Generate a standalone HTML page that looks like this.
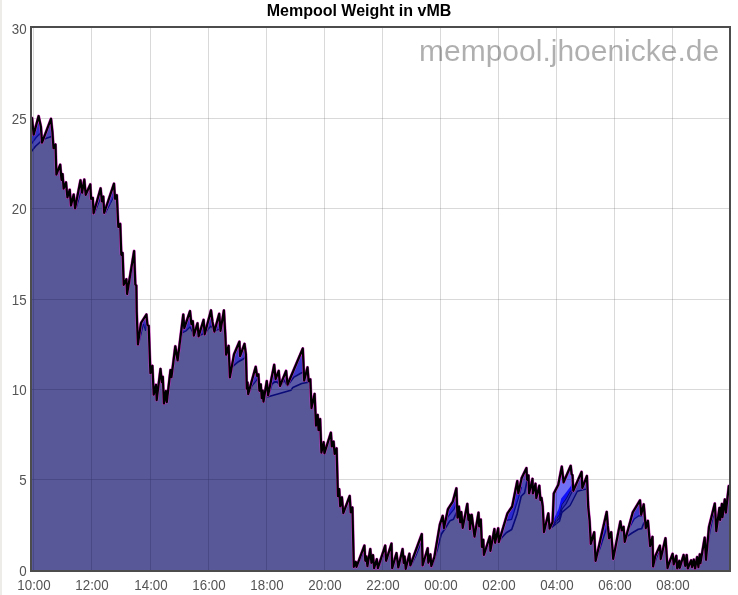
<!DOCTYPE html>
<html><head><meta charset="utf-8"><title>Mempool Weight in vMB</title>
<style>
html,body{margin:0;padding:0;background:#fff;}
body{width:738px;height:595px;position:relative;overflow:hidden;font-family:"Liberation Sans",sans-serif;}
#strip{position:absolute;left:0;top:0;width:2px;height:595px;background:#edece9;}
#title{position:absolute;left:0;width:718px;top:2px;text-align:center;font-weight:bold;font-size:16px;line-height:18px;color:#000;}
#wm{position:absolute;left:419px;top:34px;font-size:30px;line-height:34px;color:rgba(0,0,0,0.315);white-space:nowrap;z-index:3;}
.xl{position:absolute;top:577.5px;transform:scaleY(1.08);transform-origin:center;width:60px;text-align:center;font-size:13.33px;line-height:16px;color:#545454;}
.yl{position:absolute;left:-0.4px;transform:scaleY(1.08);transform-origin:center;width:27px;text-align:right;font-size:13.33px;line-height:16px;color:#545454;}
svg{position:absolute;left:0;top:0;}
</style></head><body>
<div id="strip"></div>
<div id="title">Mempool Weight in vMB</div>
<div id="wm">mempool.jhoenicke.de</div>
<svg width="738" height="595" viewBox="0 0 738 595">
<defs><clipPath id="cp"><rect x="32" y="28" width="697" height="542"/></clipPath>
<clipPath id="fp"><polygon points="31.0,571.0 31.0,118.0 32.0,118.0 33.7,134.6 38.6,116.1 40.9,126.7 42.0,142.7 51.0,118.8 52.4,132.0 53.5,148.1 55.5,144.5 56.4,174.6 60.2,164.7 61.5,179.8 62.6,174.2 63.6,188.6 66.0,182.3 67.4,197.5 69.7,189.8 71.0,205.6 73.7,194.5 75.1,208.3 80.5,180.3 82.1,192.7 84.3,179.6 85.7,194.8 90.3,184.4 91.1,198.9 92.8,197.9 93.6,213.3 100.6,188.4 101.9,201.5 103.3,196.6 104.2,213.0 114.0,183.7 115.0,198.8 116.8,195.2 118.3,227.0 120.2,223.9 121.3,254.8 122.6,252.9 123.7,284.9 126.4,279.2 127.1,294.0 134.1,251.1 135.3,284.5 136.3,285.5 136.7,312.0 137.9,344.5 141.0,323.0 146.4,314.5 147.4,324.8 148.7,325.9 150.4,373.1 152.4,365.9 153.7,394.7 156.0,384.9 156.7,400.1 160.5,368.9 161.8,382.1 162.8,376.8 163.9,403.5 165.9,391.0 166.8,402.1 170.5,370.0 171.5,377.1 175.3,346.3 177.6,360.5 183.3,314.5 184.3,328.2 190.0,311.1 191.4,324.2 192.8,321.2 193.8,335.7 197.5,323.3 198.6,336.4 203.6,319.9 204.7,334.3 211.0,310.4 212.5,322.0 214.4,331.6 219.2,313.8 220.5,330.9 223.9,310.4 225.3,335.0 226.1,354.8 228.6,345.9 229.9,377.4 234.0,354.4 239.4,341.7 240.1,356.2 244.5,343.8 245.9,354.4 246.8,388.7 247.5,382.4 248.2,394.1 255.7,366.8 257.0,375.8 258.4,374.3 259.4,390.8 260.8,384.4 261.7,398.2 262.7,390.5 263.5,401.6 266.8,381.0 268.1,395.5 274.2,364.8 275.6,379.2 278.7,370.9 280.0,386.0 286.1,370.9 287.5,384.7 302.8,348.5 304.2,380.6 307.5,367.4 308.6,381.1 310.3,379.4 311.5,408.1 314.6,393.9 316.0,425.6 317.7,414.9 318.5,430.1 320.1,419.1 321.4,452.6 323.7,442.2 324.4,453.3 330.9,432.7 331.8,446.5 333.6,441.6 334.6,454.0 336.6,448.3 337.9,496.2 339.2,489.2 340.2,506.4 341.9,497.3 343.3,513.1 349.7,496.0 350.7,512.5 352.4,507.5 353.8,566.9 355.8,561.9 356.5,566.9 364.4,545.6 365.3,560.8 366.4,556.5 367.4,566.2 370.3,549.0 371.4,562.8 373.0,555.1 374.1,568.2 376.8,559.2 377.9,568.2 385.2,545.6 386.1,560.8 391.5,543.6 392.2,568.2 396.5,553.1 398.3,567.5 402.6,549.0 403.7,562.8 404.6,556.5 405.7,568.9 409.4,553.7 410.3,565.5 421.8,534.1 422.6,565.5 427.7,548.3 428.3,562.8 430.4,554.4 431.3,566.2 434.4,556.9 439.9,524.4 442.7,515.9 444.0,528.1 448.0,509.1 452.8,501.7 456.4,488.4 457.5,517.7 458.9,506.6 460.2,522.5 461.3,512.1 462.7,527.9 467.3,503.9 468.4,519.8 469.4,514.8 469.9,529.2 471.7,514.8 474.5,536.7 478.5,512.7 479.2,526.5 480.8,519.5 481.9,546.9 483.3,539.8 483.9,555.0 489.8,536.5 490.4,550.9 494.4,529.0 495.1,542.8 498.2,528.3 498.8,542.1 507.5,513.3 512.2,506.5 517.3,481.0 518.3,493.4 521.7,478.0 526.4,468.1 527.1,479.8 528.5,475.5 529.1,493.4 532.5,478.9 532.9,493.4 535.5,483.7 536.3,498.1 539.3,485.7 540.4,500.2 541.5,497.9 542.7,506.5 544.0,532.1 548.3,513.4 549.6,528.6 552.6,522.0 553.8,493.5 558.3,484.8 561.8,466.6 563.6,482.3 570.7,465.8 571.6,474.1 572.5,475.2 573.3,490.8 581.6,471.9 582.3,488.0 586.9,476.0 587.6,492.0 588.2,507.0 589.6,521.0 590.8,543.9 594.2,532.2 595.6,560.9 606.7,511.9 607.8,525.9 609.1,538.5 611.2,532.2 613.2,558.9 620.4,521.4 621.7,530.4 623.6,526.8 624.7,541.9 632.8,512.3 640.0,500.4 641.2,514.8 643.7,504.4 645.8,528.1 647.9,520.9 650.1,546.1 652.5,536.9 653.1,566.4 655.3,556.1 659.9,545.7 660.7,559.1 665.5,538.2 666.6,554.5 667.5,568.1 669.0,563.5 672.6,553.9 673.7,564.4 676.3,555.9 677.2,568.4 679.3,560.9 679.8,567.8 683.6,555.0 685.2,565.8 686.7,555.0 687.8,568.5 691.1,560.3 692.1,567.1 693.8,559.6 695.1,568.5 697.1,557.0 698.4,567.1 699.8,554.3 700.4,563.2 704.7,537.7 706.0,559.8 709.0,526.9 714.8,503.5 716.3,531.1 719.4,507.9 720.1,520.0 721.9,503.9 722.5,517.1 724.8,499.4 725.9,512.6 728.8,486.0 730.0,486.0 730.0,571.0"/></clipPath></defs>
<rect x="33" y="28" width="1" height="542" fill="#545454" fill-opacity="0.22"/><rect x="91" y="28" width="1" height="542" fill="#545454" fill-opacity="0.22"/><rect x="150" y="28" width="1" height="542" fill="#545454" fill-opacity="0.22"/><rect x="208" y="28" width="1" height="542" fill="#545454" fill-opacity="0.22"/><rect x="266" y="28" width="1" height="542" fill="#545454" fill-opacity="0.22"/><rect x="324" y="28" width="1" height="542" fill="#545454" fill-opacity="0.22"/><rect x="382" y="28" width="1" height="542" fill="#545454" fill-opacity="0.22"/><rect x="440" y="28" width="1" height="542" fill="#545454" fill-opacity="0.22"/><rect x="498" y="28" width="1" height="542" fill="#545454" fill-opacity="0.22"/><rect x="556" y="28" width="1" height="542" fill="#545454" fill-opacity="0.22"/><rect x="614" y="28" width="1" height="542" fill="#545454" fill-opacity="0.22"/><rect x="672" y="28" width="1" height="542" fill="#545454" fill-opacity="0.22"/><rect x="32" y="118" width="697" height="1" fill="#545454" fill-opacity="0.22"/><rect x="32" y="208" width="697" height="1" fill="#545454" fill-opacity="0.22"/><rect x="32" y="299" width="697" height="1" fill="#545454" fill-opacity="0.22"/><rect x="32" y="389" width="697" height="1" fill="#545454" fill-opacity="0.22"/><rect x="32" y="479" width="697" height="1" fill="#545454" fill-opacity="0.22"/>
<g clip-path="url(#cp)">
<polygon points="31.0,571.0 31.0,118.0 32.0,118.0 33.7,134.6 38.6,116.1 40.9,126.7 42.0,142.7 51.0,118.8 52.4,132.0 53.5,148.1 55.5,144.5 56.4,174.6 60.2,164.7 61.5,179.8 62.6,174.2 63.6,188.6 66.0,182.3 67.4,197.5 69.7,189.8 71.0,205.6 73.7,194.5 75.1,208.3 80.5,180.3 82.1,192.7 84.3,179.6 85.7,194.8 90.3,184.4 91.1,198.9 92.8,197.9 93.6,213.3 100.6,188.4 101.9,201.5 103.3,196.6 104.2,213.0 114.0,183.7 115.0,198.8 116.8,195.2 118.3,227.0 120.2,223.9 121.3,254.8 122.6,252.9 123.7,284.9 126.4,279.2 127.1,294.0 134.1,251.1 135.3,284.5 136.3,285.5 136.7,312.0 137.9,344.5 141.0,323.0 146.4,314.5 147.4,324.8 148.7,325.9 150.4,373.1 152.4,365.9 153.7,394.7 156.0,384.9 156.7,400.1 160.5,368.9 161.8,382.1 162.8,376.8 163.9,403.5 165.9,391.0 166.8,402.1 170.5,370.0 171.5,377.1 175.3,346.3 177.6,360.5 183.3,314.5 184.3,328.2 190.0,311.1 191.4,324.2 192.8,321.2 193.8,335.7 197.5,323.3 198.6,336.4 203.6,319.9 204.7,334.3 211.0,310.4 212.5,322.0 214.4,331.6 219.2,313.8 220.5,330.9 223.9,310.4 225.3,335.0 226.1,354.8 228.6,345.9 229.9,377.4 234.0,354.4 239.4,341.7 240.1,356.2 244.5,343.8 245.9,354.4 246.8,388.7 247.5,382.4 248.2,394.1 255.7,366.8 257.0,375.8 258.4,374.3 259.4,390.8 260.8,384.4 261.7,398.2 262.7,390.5 263.5,401.6 266.8,381.0 268.1,395.5 274.2,364.8 275.6,379.2 278.7,370.9 280.0,386.0 286.1,370.9 287.5,384.7 302.8,348.5 304.2,380.6 307.5,367.4 308.6,381.1 310.3,379.4 311.5,408.1 314.6,393.9 316.0,425.6 317.7,414.9 318.5,430.1 320.1,419.1 321.4,452.6 323.7,442.2 324.4,453.3 330.9,432.7 331.8,446.5 333.6,441.6 334.6,454.0 336.6,448.3 337.9,496.2 339.2,489.2 340.2,506.4 341.9,497.3 343.3,513.1 349.7,496.0 350.7,512.5 352.4,507.5 353.8,566.9 355.8,561.9 356.5,566.9 364.4,545.6 365.3,560.8 366.4,556.5 367.4,566.2 370.3,549.0 371.4,562.8 373.0,555.1 374.1,568.2 376.8,559.2 377.9,568.2 385.2,545.6 386.1,560.8 391.5,543.6 392.2,568.2 396.5,553.1 398.3,567.5 402.6,549.0 403.7,562.8 404.6,556.5 405.7,568.9 409.4,553.7 410.3,565.5 421.8,534.1 422.6,565.5 427.7,548.3 428.3,562.8 430.4,554.4 431.3,566.2 434.4,556.9 439.9,524.4 442.7,515.9 444.0,528.1 448.0,509.1 452.8,501.7 456.4,488.4 457.5,517.7 458.9,506.6 460.2,522.5 461.3,512.1 462.7,527.9 467.3,503.9 468.4,519.8 469.4,514.8 469.9,529.2 471.7,514.8 474.5,536.7 478.5,512.7 479.2,526.5 480.8,519.5 481.9,546.9 483.3,539.8 483.9,555.0 489.8,536.5 490.4,550.9 494.4,529.0 495.1,542.8 498.2,528.3 498.8,542.1 507.5,513.3 512.2,506.5 517.3,481.0 518.3,493.4 521.7,478.0 526.4,468.1 527.1,479.8 528.5,475.5 529.1,493.4 532.5,478.9 532.9,493.4 535.5,483.7 536.3,498.1 539.3,485.7 540.4,500.2 541.5,497.9 542.7,506.5 544.0,532.1 548.3,513.4 549.6,528.6 552.6,522.0 553.8,493.5 558.3,484.8 561.8,466.6 563.6,482.3 570.7,465.8 571.6,474.1 572.5,475.2 573.3,490.8 581.6,471.9 582.3,488.0 586.9,476.0 587.6,492.0 588.2,507.0 589.6,521.0 590.8,543.9 594.2,532.2 595.6,560.9 606.7,511.9 607.8,525.9 609.1,538.5 611.2,532.2 613.2,558.9 620.4,521.4 621.7,530.4 623.6,526.8 624.7,541.9 632.8,512.3 640.0,500.4 641.2,514.8 643.7,504.4 645.8,528.1 647.9,520.9 650.1,546.1 652.5,536.9 653.1,566.4 655.3,556.1 659.9,545.7 660.7,559.1 665.5,538.2 666.6,554.5 667.5,568.1 669.0,563.5 672.6,553.9 673.7,564.4 676.3,555.9 677.2,568.4 679.3,560.9 679.8,567.8 683.6,555.0 685.2,565.8 686.7,555.0 687.8,568.5 691.1,560.3 692.1,567.1 693.8,559.6 695.1,568.5 697.1,557.0 698.4,567.1 699.8,554.3 700.4,563.2 704.7,537.7 706.0,559.8 709.0,526.9 714.8,503.5 716.3,531.1 719.4,507.9 720.1,520.0 721.9,503.9 722.5,517.1 724.8,499.4 725.9,512.6 728.8,486.0 730.0,486.0 730.0,571.0" fill="#585898"/>
<polygon points="31.0,118.0 32.0,118.0 33.7,134.6 38.6,116.1 40.9,126.7 42.0,142.7 51.0,118.8 52.4,132.0 52.8,137.9 52.8,136.0 50.8,136.7 44.3,139.0 40.2,142.0 35.3,146.5 31.0,152.0" fill="#4848b4"/>
<polyline points="31.0,152.0 35.3,146.5 40.2,142.0 44.3,139.0 50.8,136.7 52.8,136.0" fill="none" stroke="#0a0a78" stroke-width="1.6" stroke-linejoin="round"/>
<polygon points="31.0,118.0 32.0,118.0 33.7,134.6 38.6,116.1 40.9,126.7 42.0,142.7 51.0,118.8 51.5,123.5 51.5,122.0 50.5,124.0 46.0,132.0 42.0,140.0 40.0,133.5 36.1,137.5 31.0,144.5" fill="#3030c4"/>
<polyline points="31.0,144.5 36.1,137.5 40.0,133.5 42.0,140.0 46.0,132.0 50.5,124.0 51.5,122.0" fill="none" stroke="#0a0a90" stroke-width="1.4" stroke-linejoin="round"/>
<polygon points="230.0,376.8 234.0,354.4 239.4,341.7 240.1,356.2 244.5,343.8 245.9,354.4 246.0,358.2 246.0,356.0 244.1,358.5 238.0,362.0 232.6,366.6 230.0,377.0" fill="#3c3cc0"/>
<polyline points="230.0,377.0 232.6,366.6 238.0,362.0 244.1,358.5 246.0,356.0" fill="none" stroke="#0a0a78" stroke-width="1.6" stroke-linejoin="round"/>
<polygon points="178.0,357.3 183.3,314.5 184.3,328.2 190.0,311.1 191.4,324.2 192.8,321.2 193.5,331.3 193.5,334.0 190.0,327.0 186.0,331.0 182.0,333.0 178.0,360.0" fill="#3030b8"/>
<polyline points="178.0,360.0 182.0,333.0 186.0,331.0 190.0,327.0 193.5,334.0" fill="none" stroke="#0a0a78" stroke-width="1.2" stroke-linejoin="round"/>
<polygon points="199.0,335.1 203.6,319.9 204.7,334.3 211.0,310.4 212.5,322.0 214.4,331.6 219.2,313.8 220.5,330.9 223.5,312.8 223.5,322.0 220.0,329.0 214.5,331.0 211.0,326.0 205.0,333.0 199.0,336.0" fill="#3030b8"/>
<polyline points="199.0,336.0 205.0,333.0 211.0,326.0 214.5,331.0 220.0,329.0 223.5,322.0" fill="none" stroke="#0a0a78" stroke-width="1.2" stroke-linejoin="round"/>
<polygon points="248.5,393.0 255.7,366.8 257.0,375.8 258.4,374.3 258.5,376.0 258.5,378.0 256.0,381.0 252.0,386.0 248.5,394.0" fill="#3434c0"/>
<polyline points="248.5,394.0 252.0,386.0 256.0,381.0 258.5,378.0" fill="none" stroke="#0a0a78" stroke-width="1.2" stroke-linejoin="round"/>
<polygon points="267.2,385.5 268.1,395.5 274.2,364.8 275.6,379.2 278.7,370.9 280.0,386.0 286.1,370.9 287.5,384.7 302.8,348.5 304.2,380.6 307.5,367.4 308.5,379.9 308.5,382.2 301.7,383.5 292.9,387.6 290.9,390.3 278.7,393.7 267.2,397.0" fill="#5c5ca8"/>
<polyline points="267.2,397.0 278.7,393.7 290.9,390.3 292.9,387.6 301.7,383.5 308.5,382.2" fill="none" stroke="#0a0a78" stroke-width="1.6" stroke-linejoin="round"/>
<polygon points="268.5,393.5 274.2,364.8 275.6,379.2 278.7,370.9 280.0,386.0 286.1,370.9 287.5,384.7 302.8,348.5 303.9,373.7 303.9,372.0 301.7,372.7 293.6,377.4 287.5,385.6 284.0,380.0 280.5,385.5 276.0,381.0 272.0,384.0 268.5,395.0" fill="#3a3ac4"/>
<polyline points="268.5,395.0 272.0,384.0 276.0,381.0 280.5,385.5 284.0,380.0 287.5,385.6 293.6,377.4 301.7,372.7 303.9,372.0" fill="none" stroke="#0a0a78" stroke-width="1.6" stroke-linejoin="round"/>
<polygon points="432.5,562.6 434.4,556.9 439.9,524.4 442.7,515.9 444.0,528.1 448.0,509.1 452.8,501.7 456.4,488.4 457.3,512.4 457.3,510.0 456.8,511.8 453.5,519.3 450.0,520.7 446.7,526.0 441.3,534.2 437.5,549.0 432.5,565.0" fill="#4a4ab8"/>
<polyline points="432.5,565.0 437.5,549.0 441.3,534.2 446.7,526.0 450.0,520.7 453.5,519.3 456.8,511.8 457.3,510.0" fill="none" stroke="#0a0a78" stroke-width="1.6" stroke-linejoin="round"/>
<polygon points="444.0,528.1 448.0,509.1 452.8,501.7 456.4,488.4 456.9,501.7 456.9,503.0 454.1,509.1 448.0,516.6 444.0,528.0" fill="#2a2ad0"/>
<polyline points="444.0,528.0 448.0,516.6 454.1,509.1 456.9,503.0" fill="none" stroke="#0a0a90" stroke-width="1.2" stroke-linejoin="round"/>
<polygon points="498.8,542.1 507.5,513.3 512.2,506.5 517.3,481.0 518.3,493.4 521.7,478.0 526.4,468.1 527.0,478.1 527.0,481.0 524.6,492.9 521.2,496.3 517.1,513.9 511.7,529.5 506.3,532.8 498.8,541.0" fill="#4c4cb4"/>
<polyline points="498.8,541.0 506.3,532.8 511.7,529.5 517.1,513.9 521.2,496.3 524.6,492.9 527.0,481.0" fill="none" stroke="#0a0a78" stroke-width="1.6" stroke-linejoin="round"/>
<polygon points="499.5,539.8 507.5,513.3 512.2,506.5 517.3,481.0 518.3,493.4 521.5,478.9 521.5,487.0 518.5,497.6 511.7,519.3 505.0,520.7 499.5,538.0" fill="#2a2ad0"/>
<polyline points="499.5,538.0 505.0,520.7 511.7,519.3 518.5,497.6 521.5,487.0" fill="none" stroke="#0a0a90" stroke-width="1.2" stroke-linejoin="round"/>
<polygon points="551.4,524.6 552.6,522.0 553.8,493.5 558.3,484.8 561.8,466.6 563.6,482.3 570.7,465.8 571.6,474.1 572.5,475.2 573.3,490.8 581.6,471.9 582.3,488.0 586.9,476.0 587.0,478.3 587.0,489.0 583.9,489.6 577.4,491.3 570.1,505.5 562.0,512.4 559.5,521.3 551.4,527.8" fill="#4646ac"/>
<polyline points="551.4,527.8 559.5,521.3 562.0,512.4 570.1,505.5 577.4,491.3 583.9,489.6 587.0,489.0" fill="none" stroke="#0a0a78" stroke-width="1.4" stroke-linejoin="round"/>
<polygon points="552.0,523.3 552.6,522.0 553.8,493.5 558.3,484.8 561.8,466.6 563.6,482.3 570.7,465.8 571.6,474.1 572.5,475.2 573.3,490.8 573.3,490.0 571.7,492.5 566.0,504.0 562.0,509.0 559.5,518.0 552.0,526.5" fill="#3030b4"/>
<polyline points="552.0,526.5 559.5,518.0 562.0,509.0 566.0,504.0 571.7,492.5 573.3,490.0" fill="none" stroke="#08087a" stroke-width="1.2" stroke-linejoin="round"/>
<polygon points="552.0,523.3 552.6,522.0 553.8,493.5 558.3,484.8 561.8,466.6 563.6,482.3 570.7,465.8 571.6,474.1 572.5,475.2 573.3,490.8 573.3,488.5 570.5,491.0 566.0,499.0 562.0,504.5 559.5,514.5 552.0,525.5" fill="#1010f8"/>
<polyline points="552.0,525.5 559.5,514.5 562.0,504.5 566.0,499.0 570.5,491.0 573.3,488.5" fill="none" stroke="#08087a" stroke-width="1.0" stroke-linejoin="round"/>
<polygon points="553.2,507.7 553.8,493.5 558.3,484.8 561.8,466.6 563.6,482.3 570.7,465.8 571.6,474.1 572.5,475.2 573.0,485.0 573.0,481.0 570.5,486.5 565.2,493.5 561.2,498.6 558.6,509.1 553.2,520.0" fill="#7070f4"/>
<polygon points="574.0,489.2 581.6,471.9 582.3,488.0 586.5,477.0 586.5,479.0 584.5,482.0 582.3,487.0 581.5,476.0 578.0,484.0 574.0,490.0" fill="#3838c0"/>
<polygon points="596.6,556.5 606.7,511.9 607.6,523.4 607.6,525.0 606.5,528.5 600.5,547.0 596.6,558.0" fill="#2c2cd8"/>
<polyline points="596.6,558.0 600.5,547.0 606.5,528.5 607.6,525.0" fill="none" stroke="#0a0a90" stroke-width="1.2" stroke-linejoin="round"/>
<polygon points="614.0,554.7 620.4,521.4 621.7,530.4 621.7,531.0 620.0,528.0 617.0,540.0 614.0,556.0" fill="#3030c0"/>
<polyline points="614.0,556.0 617.0,540.0 620.0,528.0 621.7,531.0" fill="none" stroke="#0a0a90" stroke-width="1.0" stroke-linejoin="round"/>
<polygon points="626.7,534.6 632.8,512.3 640.0,500.4 641.2,514.8 643.7,504.4 645.0,519.1 645.0,522.0 643.7,523.2 641.7,528.6 638.3,529.3 632.0,533.0 626.7,536.7" fill="#5a5aaa"/>
<polyline points="626.7,536.7 632.0,533.0 638.3,529.3 641.7,528.6 643.7,523.2 645.0,522.0" fill="none" stroke="#0a0a78" stroke-width="1.6" stroke-linejoin="round"/>
<polygon points="627.4,532.0 632.8,512.3 640.0,500.4 641.2,514.8 641.7,512.7 641.7,516.4 638.9,515.7 634.2,519.1 627.4,531.3" fill="#3a3ac8"/>
<polyline points="627.4,531.3 634.2,519.1 638.9,515.7 641.7,516.4" fill="none" stroke="#0a0a90" stroke-width="1.2" stroke-linejoin="round"/>
<polygon points="357.0,565.6 364.4,545.6 364.5,547.3 364.5,550.5 357.0,567.0" fill="#3232b8"/>
<polyline points="357.0,567.0 364.5,550.5" fill="none" stroke="#0a0a80" stroke-width="1.0" stroke-linejoin="round"/>
<polygon points="378.5,566.3 385.2,545.6 385.4,549.0 385.4,551.0 378.5,568.0" fill="#3232b8"/>
<polyline points="378.5,568.0 385.4,551.0" fill="none" stroke="#0a0a80" stroke-width="1.0" stroke-linejoin="round"/>
<polygon points="411.0,563.6 421.8,534.1 421.9,538.0 421.9,541.0 416.0,556.0 411.0,566.0" fill="#3232b8"/>
<polyline points="411.0,566.0 416.0,556.0 421.9,541.0" fill="none" stroke="#0a0a80" stroke-width="1.0" stroke-linejoin="round"/>
<polygon points="484.4,553.4 489.8,536.5 489.9,538.9 489.9,541.5 484.4,555.0" fill="#3232b8"/>
<polyline points="484.4,555.0 489.9,541.5" fill="none" stroke="#0a0a80" stroke-width="1.0" stroke-linejoin="round"/>
<polygon points="76.3,202.1 80.5,180.3 81.2,185.7 81.2,190.0 79.0,199.0 76.3,208.0" fill="#3232b8"/>
<polyline points="76.3,208.0 79.0,199.0 81.2,190.0" fill="none" stroke="#0a0a80" stroke-width="1.0" stroke-linejoin="round"/>
<polygon points="94.6,209.7 100.6,188.4 101.2,194.4 101.2,196.5 98.0,205.0 94.6,213.5" fill="#3232b8"/>
<polyline points="94.6,213.5 98.0,205.0 101.2,196.5" fill="none" stroke="#0a0a80" stroke-width="1.0" stroke-linejoin="round"/>
<polygon points="105.3,209.7 114.0,183.7 114.8,195.8 114.8,194.5 110.5,203.5 105.3,213.5" fill="#3232b8"/>
<polyline points="105.3,213.5 110.5,203.5 114.8,194.5" fill="none" stroke="#0a0a80" stroke-width="1.0" stroke-linejoin="round"/>
<polygon points="128.0,288.5 134.1,251.1 134.2,253.9 134.2,258.0 128.0,293.0" fill="#3232b8"/>
<polyline points="128.0,293.0 134.2,258.0" fill="none" stroke="#0a0a80" stroke-width="1.0" stroke-linejoin="round"/>
<polygon points="139.0,336.9 141.0,323.0 146.4,314.5 146.6,316.6 146.6,320.0 145.5,331.0 143.5,324.0 139.0,343.0" fill="#3232b8"/>
<polyline points="139.0,343.0 143.5,324.0 145.5,331.0 146.6,320.0" fill="none" stroke="#0a0a80" stroke-width="1.0" stroke-linejoin="round"/>
<polygon points="167.5,396.0 170.5,370.0 170.6,370.7 170.6,374.0 167.5,401.0" fill="#3232b8"/>
<polyline points="167.5,401.0 170.6,374.0" fill="none" stroke="#0a0a80" stroke-width="1.0" stroke-linejoin="round"/>
<polygon points="172.0,373.0 175.3,346.3 175.4,346.9 175.4,351.0 172.0,377.0" fill="#3232b8"/>
<polyline points="172.0,377.0 175.4,351.0" fill="none" stroke="#0a0a80" stroke-width="1.0" stroke-linejoin="round"/>
<polygon points="654.0,562.2 655.3,556.1 659.9,545.7 660.0,547.4 660.0,549.0 654.0,565.0" fill="#3232b8"/>
<polyline points="654.0,565.0 660.0,549.0" fill="none" stroke="#0a0a80" stroke-width="1.0" stroke-linejoin="round"/>
<polygon points="661.2,556.9 665.5,538.2 665.6,539.7 665.6,542.5 661.2,558.5" fill="#3232b8"/>
<polyline points="661.2,558.5 665.6,542.5" fill="none" stroke="#0a0a80" stroke-width="1.0" stroke-linejoin="round"/>
<polygon points="700.8,560.8 704.7,537.7 704.8,539.4 704.8,542.0 700.8,563.0" fill="#3232b8"/>
<polyline points="700.8,563.0 704.8,542.0" fill="none" stroke="#0a0a80" stroke-width="1.0" stroke-linejoin="round"/>
<polygon points="706.5,554.3 709.0,526.9 714.8,503.5 714.9,505.3 714.9,509.0 710.0,532.0 706.5,558.0" fill="#3232b8"/>
<polyline points="706.5,558.0 710.0,532.0 714.9,509.0" fill="none" stroke="#0a0a80" stroke-width="1.0" stroke-linejoin="round"/>
<g clip-path="url(#fp)"><rect x="33" y="28" width="1" height="542" fill="#38386e" opacity="0.45"/><rect x="91" y="28" width="1" height="542" fill="#38386e" opacity="0.45"/><rect x="150" y="28" width="1" height="542" fill="#38386e" opacity="0.45"/><rect x="208" y="28" width="1" height="542" fill="#38386e" opacity="0.45"/><rect x="266" y="28" width="1" height="542" fill="#38386e" opacity="0.45"/><rect x="324" y="28" width="1" height="542" fill="#38386e" opacity="0.45"/><rect x="382" y="28" width="1" height="542" fill="#38386e" opacity="0.45"/><rect x="440" y="28" width="1" height="542" fill="#38386e" opacity="0.45"/><rect x="498" y="28" width="1" height="542" fill="#38386e" opacity="0.45"/><rect x="556" y="28" width="1" height="542" fill="#38386e" opacity="0.45"/><rect x="614" y="28" width="1" height="542" fill="#38386e" opacity="0.45"/><rect x="672" y="28" width="1" height="542" fill="#38386e" opacity="0.45"/><rect x="32" y="118" width="697" height="1" fill="#38386e" opacity="0.45"/><rect x="32" y="208" width="697" height="1" fill="#38386e" opacity="0.45"/><rect x="32" y="299" width="697" height="1" fill="#38386e" opacity="0.45"/><rect x="32" y="389" width="697" height="1" fill="#38386e" opacity="0.45"/><rect x="32" y="479" width="697" height="1" fill="#38386e" opacity="0.45"/></g>
<polyline points="31.0,118.0 32.0,118.0 33.7,134.6 38.6,116.1 40.9,126.7 42.0,142.7 51.0,118.8 52.4,132.0 53.5,148.1 55.5,144.5 56.4,174.6 60.2,164.7 61.5,179.8 62.6,174.2 63.6,188.6 66.0,182.3 67.4,197.5 69.7,189.8 71.0,205.6 73.7,194.5 75.1,208.3 80.5,180.3 82.1,192.7 84.3,179.6 85.7,194.8 90.3,184.4 91.1,198.9 92.8,197.9 93.6,213.3 100.6,188.4 101.9,201.5 103.3,196.6 104.2,213.0 114.0,183.7 115.0,198.8 116.8,195.2 118.3,227.0 120.2,223.9 121.3,254.8 122.6,252.9 123.7,284.9 126.4,279.2 127.1,294.0 134.1,251.1 135.3,284.5 136.3,285.5 136.7,312.0 137.9,344.5 141.0,323.0 146.4,314.5 147.4,324.8 148.7,325.9 150.4,373.1 152.4,365.9 153.7,394.7 156.0,384.9 156.7,400.1 160.5,368.9 161.8,382.1 162.8,376.8 163.9,403.5 165.9,391.0 166.8,402.1 170.5,370.0 171.5,377.1 175.3,346.3 177.6,360.5 183.3,314.5 184.3,328.2 190.0,311.1 191.4,324.2 192.8,321.2 193.8,335.7 197.5,323.3 198.6,336.4 203.6,319.9 204.7,334.3 211.0,310.4 212.5,322.0 214.4,331.6 219.2,313.8 220.5,330.9 223.9,310.4 225.3,335.0 226.1,354.8 228.6,345.9 229.9,377.4 234.0,354.4 239.4,341.7 240.1,356.2 244.5,343.8 245.9,354.4 246.8,388.7 247.5,382.4 248.2,394.1 255.7,366.8 257.0,375.8 258.4,374.3 259.4,390.8 260.8,384.4 261.7,398.2 262.7,390.5 263.5,401.6 266.8,381.0 268.1,395.5 274.2,364.8 275.6,379.2 278.7,370.9 280.0,386.0 286.1,370.9 287.5,384.7 302.8,348.5 304.2,380.6 307.5,367.4 308.6,381.1 310.3,379.4 311.5,408.1 314.6,393.9 316.0,425.6 317.7,414.9 318.5,430.1 320.1,419.1 321.4,452.6 323.7,442.2 324.4,453.3 330.9,432.7 331.8,446.5 333.6,441.6 334.6,454.0 336.6,448.3 337.9,496.2 339.2,489.2 340.2,506.4 341.9,497.3 343.3,513.1 349.7,496.0 350.7,512.5 352.4,507.5 353.8,566.9 355.8,561.9 356.5,566.9 364.4,545.6 365.3,560.8 366.4,556.5 367.4,566.2 370.3,549.0 371.4,562.8 373.0,555.1 374.1,568.2 376.8,559.2 377.9,568.2 385.2,545.6 386.1,560.8 391.5,543.6 392.2,568.2 396.5,553.1 398.3,567.5 402.6,549.0 403.7,562.8 404.6,556.5 405.7,568.9 409.4,553.7 410.3,565.5 421.8,534.1 422.6,565.5 427.7,548.3 428.3,562.8 430.4,554.4 431.3,566.2 434.4,556.9 439.9,524.4 442.7,515.9 444.0,528.1 448.0,509.1 452.8,501.7 456.4,488.4 457.5,517.7 458.9,506.6 460.2,522.5 461.3,512.1 462.7,527.9 467.3,503.9 468.4,519.8 469.4,514.8 469.9,529.2 471.7,514.8 474.5,536.7 478.5,512.7 479.2,526.5 480.8,519.5 481.9,546.9 483.3,539.8 483.9,555.0 489.8,536.5 490.4,550.9 494.4,529.0 495.1,542.8 498.2,528.3 498.8,542.1 507.5,513.3 512.2,506.5 517.3,481.0 518.3,493.4 521.7,478.0 526.4,468.1 527.1,479.8 528.5,475.5 529.1,493.4 532.5,478.9 532.9,493.4 535.5,483.7 536.3,498.1 539.3,485.7 540.4,500.2 541.5,497.9 542.7,506.5 544.0,532.1 548.3,513.4 549.6,528.6 552.6,522.0 553.8,493.5 558.3,484.8 561.8,466.6 563.6,482.3 570.7,465.8 571.6,474.1 572.5,475.2 573.3,490.8 581.6,471.9 582.3,488.0 586.9,476.0 587.6,492.0 588.2,507.0 589.6,521.0 590.8,543.9 594.2,532.2 595.6,560.9 606.7,511.9 607.8,525.9 609.1,538.5 611.2,532.2 613.2,558.9 620.4,521.4 621.7,530.4 623.6,526.8 624.7,541.9 632.8,512.3 640.0,500.4 641.2,514.8 643.7,504.4 645.8,528.1 647.9,520.9 650.1,546.1 652.5,536.9 653.1,566.4 655.3,556.1 659.9,545.7 660.7,559.1 665.5,538.2 666.6,554.5 667.5,568.1 669.0,563.5 672.6,553.9 673.7,564.4 676.3,555.9 677.2,568.4 679.3,560.9 679.8,567.8 683.6,555.0 685.2,565.8 686.7,555.0 687.8,568.5 691.1,560.3 692.1,567.1 693.8,559.6 695.1,568.5 697.1,557.0 698.4,567.1 699.8,554.3 700.4,563.2 704.7,537.7 706.0,559.8 709.0,526.9 714.8,503.5 716.3,531.1 719.4,507.9 720.1,520.0 721.9,503.9 722.5,517.1 724.8,499.4 725.9,512.6 728.8,486.0 730.0,486.0" fill="none" stroke="#d838c8" stroke-width="3.0" stroke-linejoin="round" stroke-linecap="round"/>
<polyline points="31.0,118.0 32.0,118.0 33.7,134.6 38.6,116.1 40.9,126.7 42.0,142.7 51.0,118.8 52.4,132.0 53.5,148.1 55.5,144.5 56.4,174.6 60.2,164.7 61.5,179.8 62.6,174.2 63.6,188.6 66.0,182.3 67.4,197.5 69.7,189.8 71.0,205.6 73.7,194.5 75.1,208.3 80.5,180.3 82.1,192.7 84.3,179.6 85.7,194.8 90.3,184.4 91.1,198.9 92.8,197.9 93.6,213.3 100.6,188.4 101.9,201.5 103.3,196.6 104.2,213.0 114.0,183.7 115.0,198.8 116.8,195.2 118.3,227.0 120.2,223.9 121.3,254.8 122.6,252.9 123.7,284.9 126.4,279.2 127.1,294.0 134.1,251.1 135.3,284.5 136.3,285.5 136.7,312.0 137.9,344.5 141.0,323.0 146.4,314.5 147.4,324.8 148.7,325.9 150.4,373.1 152.4,365.9 153.7,394.7 156.0,384.9 156.7,400.1 160.5,368.9 161.8,382.1 162.8,376.8 163.9,403.5 165.9,391.0 166.8,402.1 170.5,370.0 171.5,377.1 175.3,346.3 177.6,360.5 183.3,314.5 184.3,328.2 190.0,311.1 191.4,324.2 192.8,321.2 193.8,335.7 197.5,323.3 198.6,336.4 203.6,319.9 204.7,334.3 211.0,310.4 212.5,322.0 214.4,331.6 219.2,313.8 220.5,330.9 223.9,310.4 225.3,335.0 226.1,354.8 228.6,345.9 229.9,377.4 234.0,354.4 239.4,341.7 240.1,356.2 244.5,343.8 245.9,354.4 246.8,388.7 247.5,382.4 248.2,394.1 255.7,366.8 257.0,375.8 258.4,374.3 259.4,390.8 260.8,384.4 261.7,398.2 262.7,390.5 263.5,401.6 266.8,381.0 268.1,395.5 274.2,364.8 275.6,379.2 278.7,370.9 280.0,386.0 286.1,370.9 287.5,384.7 302.8,348.5 304.2,380.6 307.5,367.4 308.6,381.1 310.3,379.4 311.5,408.1 314.6,393.9 316.0,425.6 317.7,414.9 318.5,430.1 320.1,419.1 321.4,452.6 323.7,442.2 324.4,453.3 330.9,432.7 331.8,446.5 333.6,441.6 334.6,454.0 336.6,448.3 337.9,496.2 339.2,489.2 340.2,506.4 341.9,497.3 343.3,513.1 349.7,496.0 350.7,512.5 352.4,507.5 353.8,566.9 355.8,561.9 356.5,566.9 364.4,545.6 365.3,560.8 366.4,556.5 367.4,566.2 370.3,549.0 371.4,562.8 373.0,555.1 374.1,568.2 376.8,559.2 377.9,568.2 385.2,545.6 386.1,560.8 391.5,543.6 392.2,568.2 396.5,553.1 398.3,567.5 402.6,549.0 403.7,562.8 404.6,556.5 405.7,568.9 409.4,553.7 410.3,565.5 421.8,534.1 422.6,565.5 427.7,548.3 428.3,562.8 430.4,554.4 431.3,566.2 434.4,556.9 439.9,524.4 442.7,515.9 444.0,528.1 448.0,509.1 452.8,501.7 456.4,488.4 457.5,517.7 458.9,506.6 460.2,522.5 461.3,512.1 462.7,527.9 467.3,503.9 468.4,519.8 469.4,514.8 469.9,529.2 471.7,514.8 474.5,536.7 478.5,512.7 479.2,526.5 480.8,519.5 481.9,546.9 483.3,539.8 483.9,555.0 489.8,536.5 490.4,550.9 494.4,529.0 495.1,542.8 498.2,528.3 498.8,542.1 507.5,513.3 512.2,506.5 517.3,481.0 518.3,493.4 521.7,478.0 526.4,468.1 527.1,479.8 528.5,475.5 529.1,493.4 532.5,478.9 532.9,493.4 535.5,483.7 536.3,498.1 539.3,485.7 540.4,500.2 541.5,497.9 542.7,506.5 544.0,532.1 548.3,513.4 549.6,528.6 552.6,522.0 553.8,493.5 558.3,484.8 561.8,466.6 563.6,482.3 570.7,465.8 571.6,474.1 572.5,475.2 573.3,490.8 581.6,471.9 582.3,488.0 586.9,476.0 587.6,492.0 588.2,507.0 589.6,521.0 590.8,543.9 594.2,532.2 595.6,560.9 606.7,511.9 607.8,525.9 609.1,538.5 611.2,532.2 613.2,558.9 620.4,521.4 621.7,530.4 623.6,526.8 624.7,541.9 632.8,512.3 640.0,500.4 641.2,514.8 643.7,504.4 645.8,528.1 647.9,520.9 650.1,546.1 652.5,536.9 653.1,566.4 655.3,556.1 659.9,545.7 660.7,559.1 665.5,538.2 666.6,554.5 667.5,568.1 669.0,563.5 672.6,553.9 673.7,564.4 676.3,555.9 677.2,568.4 679.3,560.9 679.8,567.8 683.6,555.0 685.2,565.8 686.7,555.0 687.8,568.5 691.1,560.3 692.1,567.1 693.8,559.6 695.1,568.5 697.1,557.0 698.4,567.1 699.8,554.3 700.4,563.2 704.7,537.7 706.0,559.8 709.0,526.9 714.8,503.5 716.3,531.1 719.4,507.9 720.1,520.0 721.9,503.9 722.5,517.1 724.8,499.4 725.9,512.6 728.8,486.0 730.0,486.0" fill="none" stroke="#000" stroke-width="2.2" stroke-linejoin="round" stroke-linecap="round"/>
</g>
<rect x="31" y="27" width="699" height="544" fill="none" stroke="#4c4c4c" stroke-width="2"/>
</svg>
<div class="xl" style="left:4.0px">10:00</div><div class="xl" style="left:62.0px">12:00</div><div class="xl" style="left:121.0px">14:00</div><div class="xl" style="left:179.0px">16:00</div><div class="xl" style="left:237.0px">18:00</div><div class="xl" style="left:295.0px">20:00</div><div class="xl" style="left:353.0px">22:00</div><div class="xl" style="left:411.0px">00:00</div><div class="xl" style="left:469.0px">02:00</div><div class="xl" style="left:527.0px">04:00</div><div class="xl" style="left:585.0px">06:00</div><div class="xl" style="left:643.0px">08:00</div>
<div class="yl" style="top:21.5px">30</div><div class="yl" style="top:112.0px">25</div><div class="yl" style="top:202.0px">20</div><div class="yl" style="top:293.0px">15</div><div class="yl" style="top:383.0px">10</div><div class="yl" style="top:473.0px">5</div><div class="yl" style="top:564.0px">0</div>
</body></html>
